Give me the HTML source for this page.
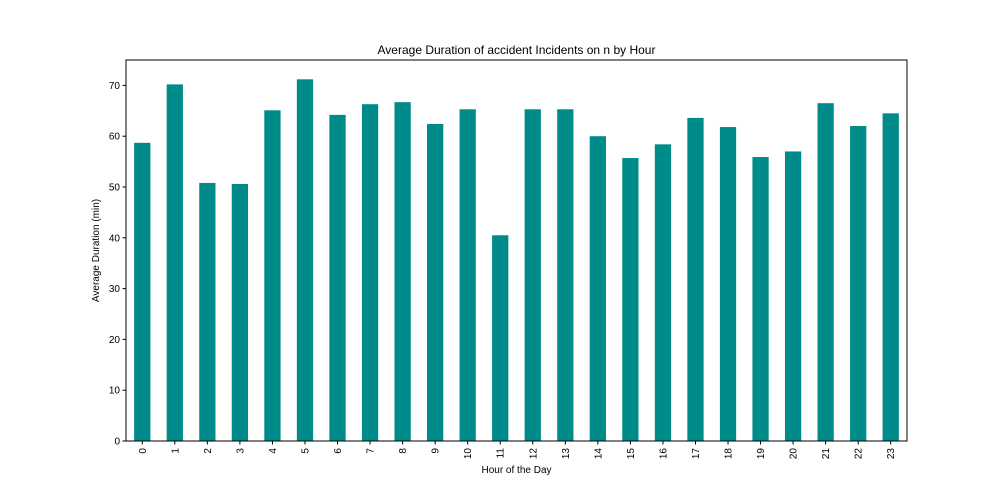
<!DOCTYPE html>
<html><head><meta charset="utf-8"><style>
html,body{margin:0;padding:0;background:#fff;}
svg{display:block;font-family:"Liberation Sans","DejaVu Sans",sans-serif;}
</style></head><body>
<svg id="chart" width="1008" height="504" xmlns="http://www.w3.org/2000/svg">
<rect width="1008" height="504" fill="#fff"/>
<text x="516.5" y="54" text-anchor="middle" font-size="12">Average Duration of accident Incidents on n by Hour</text>
<g id="bars"></g>
<g id="yticks"></g>
<g id="xticks"></g>
<rect x="126" y="60" width="781" height="381" fill="none" stroke="#000" stroke-width="1"/>
<text x="516.5" y="473" text-anchor="middle" font-size="10">Hour of the Day</text>
<text transform="translate(99,250.5) rotate(-90)" text-anchor="middle" font-size="10">Average Duration (min)</text>
</svg>
<script>
const categories = ["0","1","2","3","4","5","6","7","8","9","10","11","12","13","14","15","16","17","18","19","20","21","22","23"];
const values = [58.7,70.2,50.8,50.6,65.1,71.2,64.2,66.3,66.7,62.4,65.3,40.5,65.3,65.3,60.0,55.7,58.4,63.6,61.8,55.9,57.0,66.5,62.0,64.5];
const yTicks = [0,10,20,30,40,50,60,70];
const NS = "http://www.w3.org/2000/svg";
const L=126,R=907,T=60,B=441,YMAX=75;
const step=(R-L)/categories.length;
function xs(i){return L+step*(i+0.5);}
function ys(v){return B-(v/YMAX)*(B-T);}
const bars=document.getElementById('bars'),yt=document.getElementById('yticks'),xt=document.getElementById('xticks');
values.forEach((v,i)=>{
  const r=document.createElementNS(NS,'rect');
  r.setAttribute('x',xs(i)-step*0.25);r.setAttribute('width',step*0.5);
  r.setAttribute('y',ys(v));r.setAttribute('height',B-ys(v));r.setAttribute('fill','#008b8b');
  
  
  bars.appendChild(r);
});
categories.forEach((c,i)=>{
  const x=xs(i);
  const l=document.createElementNS(NS,'line');
  l.setAttribute('x1',x);l.setAttribute('x2',x);l.setAttribute('y1',B);l.setAttribute('y2',B+3.5);l.setAttribute('stroke','#000');
  
  
  xt.appendChild(l);
  const t=document.createElementNS(NS,'text');
  t.setAttribute('transform','translate('+(x+3.5)+','+(B+7)+') rotate(-90)');
  t.setAttribute('text-anchor','end');t.setAttribute('font-size','10');t.textContent=c;
  
  
  xt.appendChild(t);
});
yTicks.forEach(v=>{
  const y=ys(v);
  const l=document.createElementNS(NS,'line');
  l.setAttribute('x1',L-3.5);l.setAttribute('x2',L);l.setAttribute('y1',y);l.setAttribute('y2',y);l.setAttribute('stroke','#000');
  
  
  yt.appendChild(l);
  const t=document.createElementNS(NS,'text');
  t.setAttribute('x',L-6);t.setAttribute('y',y+3.5);t.setAttribute('text-anchor','end');t.setAttribute('font-size','10');t.textContent=v;
  
  
  yt.appendChild(t);
});
</script>
</body></html>
